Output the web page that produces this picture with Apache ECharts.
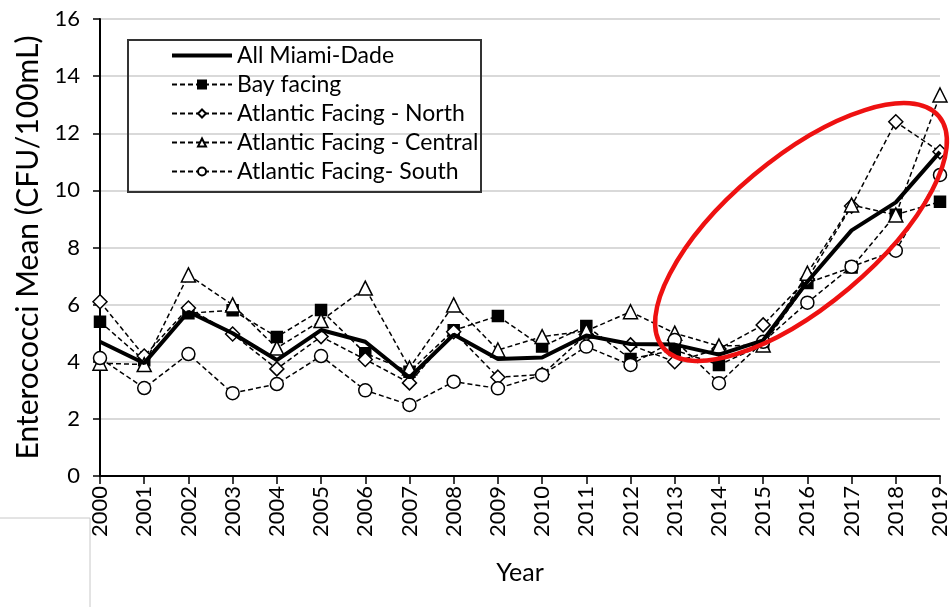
<!DOCTYPE html>
<html>
<head>
<meta charset="utf-8">
<script src="https://cdn.jsdelivr.net/npm/echarts@6/dist/echarts.min.js"></script>
<style>
  html, body { margin: 0; padding: 0; background: #fff; }
  #chart { width: 951px; height: 607px; }
</style>
</head>
<body>
<div id="chart"></div>
<script>
// data
const years = ['2000', '2001', '2002', '2003', '2004', '2005', '2006', '2007', '2008', '2009',
  '2010', '2011', '2012', '2013', '2014', '2015', '2016', '2017', '2018', '2019']
const allMiami = [4.7, 3.95, 5.75, 5.0, 4.06, 5.11, 4.7, 3.45, 4.95, 4.1, 4.15, 4.92, 4.62, 4.6, 4.25, 4.75, 6.8, 8.6, 9.58, 11.35]
const bayFacing = [5.4, 4.05, 5.7, 5.8, 4.87, 5.81, 4.3, 3.65, 5.1, 5.6, 4.53, 5.25, 4.1, 4.41, 3.89, 4.6, 6.76, 7.3, 9.15, 9.6]
const atlNorth = [6.1, 4.2, 5.88, 4.97, 3.75, 4.88, 4.08, 3.26, 5.05, 3.46, 3.55, 4.95, 4.59, 4.0, 4.45, 5.29, 6.9, 9.45, 12.4, 11.35]
const atlCentral = [3.95, 3.9, 7.04, 5.99, 4.48, 5.44, 6.58, 3.78, 5.99, 4.41, 4.88, 5.08, 5.75, 5.0, 4.55, 4.59, 7.1, 9.49, 9.14, 13.34]
const atlSouth = [4.13, 3.08, 4.27, 2.9, 3.22, 4.2, 3.0, 2.49, 3.3, 3.07, 3.54, 4.53, 3.89, 4.76, 3.25, 4.7, 6.07, 7.33, 7.89, 10.54]

const font = 'Lato, "Noto Sans", sans-serif'

// dashed series share the same look
const dashed = (name, data, symbol, size, filled) => ({
  name: name,
  type: 'line',
  data: data,
  symbol: symbol,
  symbolSize: size,
  showAllSymbol: true,
  lineStyle: { color: '#000', width: 1.5, type: [5, 3] },
  itemStyle: { color: filled ? '#000' : '#fff', borderColor: '#000', borderWidth: 1.5 },
  emphasis: { disabled: true },
  z: 3
})

const chart = echarts.init(document.getElementById('chart'))

const option = {
  animation: false,
  backgroundColor: '#fff',
  textStyle: { fontFamily: font },
  grid: { left: 100, right: 5, top: 19, bottom: 131, containLabel: false },
  legend: {
    orient: 'vertical',
    left: 171,
    top: 44,
    itemWidth: 60,
    itemHeight: 10,
    itemGap: 6,
    padding: 0,
    textStyle: { fontFamily: font, fontSize: 23, color: '#000' },
    data: [
      { name: 'All Miami-Dade', icon: 'path://M0,0 L60,0 L60,4 L0,4 Z' },
      'Bay facing', 'Atlantic Facing - North', 'Atlantic Facing - Central', 'Atlantic Facing- South'
    ]
  },
  xAxis: {
    type: 'category',
    data: years,
    boundaryGap: false,
    name: 'Year',
    nameLocation: 'middle',
    nameGap: 84,
    nameTextStyle: { fontFamily: font, fontSize: 25, color: '#000' },
    axisLine: { lineStyle: { color: '#000', width: 2 } },
    axisTick: { show: true, length: 8, lineStyle: { color: '#000', width: 1.5 } },
    axisLabel: { rotate: 90, fontSize: 22, color: '#000', margin: 10, fontFamily: font },
    splitLine: { show: false }
  },
  yAxis: {
    type: 'value',
    min: 0,
    max: 16,
    interval: 2,
    name: 'Enterococci Mean (CFU/100mL)',
    nameLocation: 'middle',
    nameGap: 52,
    nameTextStyle: { fontFamily: font, fontSize: 30, color: '#000' },
    axisLine: { show: true, lineStyle: { color: '#000', width: 2 } },
    axisTick: { show: true, length: 7, lineStyle: { color: '#000', width: 1.5 } },
    axisLabel: { fontSize: 22, color: '#000', margin: 20, fontFamily: font },
    splitLine: { lineStyle: { color: '#d9d9d9', width: 2 } }
  },
  series: [
    {
      name: 'All Miami-Dade',
      type: 'line',
      data: allMiami,
      showSymbol: false,
      symbol: 'none',
      lineStyle: { color: '#000', width: 4 },
      itemStyle: { color: '#000' },
      emphasis: { disabled: true },
      z: 4
    },
    dashed('Bay facing', bayFacing, 'rect', 11, true),
    dashed('Atlantic Facing - North', atlNorth, 'diamond', 14, false),
    dashed('Atlantic Facing - Central', atlCentral, 'triangle', 14, false),
    dashed('Atlantic Facing- South', atlSouth, 'circle', 13, false)
  ],
  graphic: [
    // legend frame
    {
      type: 'rect',
      shape: { x: 128, y: 40, width: 353, height: 152 },
      style: { fill: 'none', stroke: '#333', lineWidth: 2 },
      z: 10
    },
    // red annotation ellipse
    {
      type: 'ellipse',
      x: 801,
      y: 232,
      rotation: 40 * Math.PI / 180,
      shape: { cx: 0, cy: 0, rx: 180, ry: 74 },
      style: { fill: 'none', stroke: '#ee1111', lineWidth: 4.5 },
      z: 20
    },
    // faint crop marks at lower left
    {
      type: 'polyline',
      shape: { points: [[0, 518], [90, 518], [90, 607]] },
      style: { stroke: '#c8c8c8', lineWidth: 1, fill: 'none' },
      z: 1
    }
  ]
}

chart.setOption(option)
</script>
</body>
</html>
